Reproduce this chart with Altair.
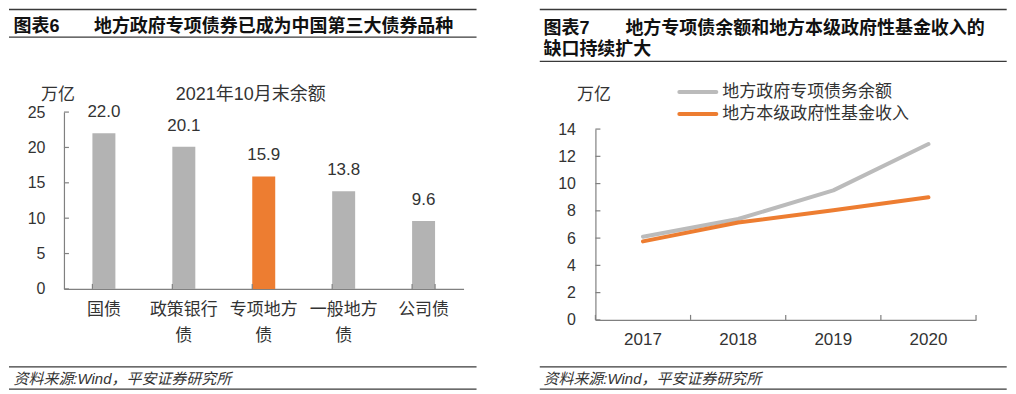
import altair as alt
import pandas as pd

FONT = "Liberation Sans, Arial, Noto Sans CJK SC, sans-serif"
GRAY_BAR = "#B3B3B3"
GRAY_LINE = "#BBBBBB"
ORANGE = "#ED7D31"
AXIS = "#808080"
TXT = "#333333"
RULE = "#3a3a3a"

# ---------------- data ----------------
left_tag = "图表6"
left_title = "地方政府专项债券已成为中国第三大债券品种"
left_sub = "2021年10月末余额"
unit = "万亿"
bond_types = ["国债", "政策银行债", "专项地方债", "一般地方债", "公司债"]
bond_values = [22.0, 20.1, 15.9, 13.8, 9.6]
highlight = "专项地方债"
left_yticks = [0, 5, 10, 15, 20, 25]

right_tag = "图表7"
right_title1 = "地方专项债余额和地方本级政府性基金收入的"
right_title2 = "缺口持续扩大"
years = ["2017", "2018", "2019", "2020"]
series_names = ["地方政府专项债务余额", "地方本级政府性基金收入"]
special_debt = [6.1, 7.4, 9.5, 12.9]
fund_income = [5.76, 7.14, 8.05, 8.99]
right_yticks = [0, 2, 4, 6, 8, 10, 12, 14]

source = "资料来源:Wind，平安证券研究所"

# both views share top and height; each y scale uses its own pixel range
H = 208
W1, W2 = 400, 381
L_BOTTOM = 177          # left plot bottom inside the view
R_TOP = 17              # right plot top inside the view

one = pd.DataFrame({"k": [0]})


def hrule(x1, x2, y, w=1.3, color=RULE):
    return alt.Chart(one).mark_rule(color=color, strokeWidth=w).encode(
        x=alt.value(x1), x2=alt.value(x2), y=alt.value(y))


def label(txt, x, y, size, bold=False, italic=False, align="left", color=TXT):
    return alt.Chart(pd.DataFrame({"t": [txt]})).mark_text(
        align=align, baseline="middle", fontSize=size, font=FONT,
        fontWeight="bold" if bold else "normal",
        fontStyle="italic" if italic else "normal", color=color,
    ).encode(text="t:N", x=alt.value(x), y=alt.value(y))


# ---------------- left panel ----------------
bars_df = pd.DataFrame({"cat": bond_types, "val": bond_values})
xs1 = alt.Scale(domain=bond_types, paddingInner=0.7125, paddingOuter=0.35625)
ys1 = alt.Scale(domain=[0, 25], range=[L_BOTTOM, 0])
xax1 = alt.Axis(
    labelAngle=0, ticks=False, labelPadding=13, labelFontSize=17,
    labelFont=FONT, labelColor=TXT, labelLineHeight=26, offset=L_BOTTOM - H,
    domainColor=AXIS, domainWidth=1.2, labelOverlap=False,
    labelExpr="length(datum.label) > 4 ? [substring(datum.label,0,4), substring(datum.label,4)] : datum.label")
yax1 = alt.Axis(
    values=left_yticks, ticks=False, grid=False, labelPadding=19,
    labelFontSize=16, labelFont=FONT, labelColor=TXT, labelOverlap=False,
    domainColor=AXIS, domainWidth=1.2)

X1 = lambda **kw: alt.X("cat:N", scale=xs1, title=None, axis=xax1, **kw)
Y1 = lambda: alt.Y("val:Q", scale=ys1, title=None, axis=yax1)

bars = alt.Chart(bars_df).mark_bar().encode(
    x=X1(), y=Y1(),
    color=alt.condition(alt.datum.cat == highlight, alt.value(ORANGE), alt.value(GRAY_BAR)),
)
bar_labels = alt.Chart(bars_df).mark_text(
    dy=-21, baseline="middle", fontSize=17, font=FONT, color=TXT).encode(
    x=X1(), y=Y1(), text=alt.Text("val:Q", format=".1f"))

ytick1 = alt.Chart(pd.DataFrame({"val": left_yticks})).mark_rule(color=AXIS, strokeWidth=1.2).encode(
    y=Y1(), x=alt.value(0), x2=alt.value(5))
xtick1 = alt.Chart(bars_df).mark_rule(color=AXIS, strokeWidth=1.2).encode(
    x=X1(bandPosition=0), y=alt.value(L_BOTTOM), y2=alt.value(L_BOTTOM - 5))
xtick1_end = alt.Chart(bars_df).transform_filter(
    alt.datum.cat == bond_types[-1]).mark_rule(color=AXIS, strokeWidth=1.2).encode(
    x=X1(bandPosition=1), y=alt.value(L_BOTTOM), y2=alt.value(L_BOTTOM - 5))

left = alt.layer(
    bars, bar_labels, ytick1, xtick1, xtick1_end,
    hrule(-55, 413, -102.7), hrule(-55, 413, -75),
    label(left_tag, -50.5, -85, 18, bold=True, color="#111"),
    label(left_title, 30, -85, 18, bold=True, color="#111"),
    label(unit, -6, -17, 17, align="center"),
    label(left_sub, 187, -17, 18, align="center"),
    hrule(-55, 413, 255), hrule(-55, 413, 277.3),
    label(source, -50.5, 266.7, 15, italic=True),
).properties(width=W1, height=H)

# ---------------- right panel ----------------
rows = []
for name, vals in zip(series_names, [special_debt, fund_income]):
    for yr, v in zip(years, vals):
        rows.append({"year": yr, "val": v, "series": name})
lines_df = pd.DataFrame(rows)
xs2 = alt.Scale(domain=years, paddingInner=0, paddingOuter=0)
ys2 = alt.Scale(domain=[0, 14], range=[H, R_TOP])
xax2 = alt.Axis(
    labelAngle=0, ticks=False, labelPadding=12, labelFontSize=17,
    labelFont=FONT, labelColor=TXT, domainColor=AXIS, domainWidth=1.2,
    labelOverlap=False)
yax2 = alt.Axis(
    values=right_yticks, ticks=False, grid=False, labelPadding=20,
    labelFontSize=16, labelFont=FONT, labelColor=TXT, labelOverlap=False,
    domainColor=AXIS, domainWidth=1.2)

X2 = lambda **kw: alt.X("year:N", scale=xs2, title=None, axis=xax2, **kw)
Y2 = lambda: alt.Y("val:Q", scale=ys2, title=None, axis=yax2)


def line_layer(name, color):
    return alt.Chart(lines_df).transform_filter(alt.datum.series == name).mark_line(
        color=color, strokeWidth=4, strokeCap="round", strokeJoin="round").encode(
        x=X2(bandPosition=0.5), y=Y2())


years_df = pd.DataFrame({"year": years})
ytick2 = alt.Chart(pd.DataFrame({"val": right_yticks})).mark_rule(color=AXIS, strokeWidth=1.2).encode(
    y=Y2(), x=alt.value(0), x2=alt.value(5))
xtick2 = alt.Chart(years_df).mark_rule(color=AXIS, strokeWidth=1.2).encode(
    x=X2(bandPosition=0), y=alt.value(H), y2=alt.value(H - 5))
xtick2_end = alt.Chart(years_df).transform_filter(
    alt.datum.year == years[-1]).mark_rule(color=AXIS, strokeWidth=1.2).encode(
    x=X2(bandPosition=1), y=alt.value(H), y2=alt.value(H - 5))


def legend_line(y, color):
    return alt.Chart(one).mark_rule(color=color, strokeWidth=4, strokeCap="round").encode(
        x=alt.value(84), x2=alt.value(121), y=alt.value(y))


right = alt.layer(
    line_layer(series_names[0], GRAY_LINE), line_layer(series_names[1], ORANGE),
    ytick2, xtick2, xtick2_end,
    legend_line(-20, GRAY_LINE), legend_line(2, ORANGE),
    label(series_names[0], 127, -20, 17),
    label(series_names[1], 127, 2, 17),
    label(unit, -1.5, -17, 17, align="center"),
    hrule(-55.7, 411.7, -102.7), hrule(-55.7, 411.7, -50.7),
    label(right_tag, -52, -83, 18, bold=True, color="#111"),
    label(right_title1, 30, -83, 18, bold=True, color="#111"),
    label(right_title2, -52, -62, 18, bold=True, color="#111"),
    hrule(-55.7, 411.7, 255), hrule(-55.7, 411.7, 277.3),
    label(source, -52, 266.7, 15, italic=True),
).properties(width=W2, height=H)

chart = alt.hconcat(left, right, spacing=61).properties(padding=0).configure_view(strokeWidth=0)

chart.save("out.html", embed_options={"renderer": "svg", "actions": False})
